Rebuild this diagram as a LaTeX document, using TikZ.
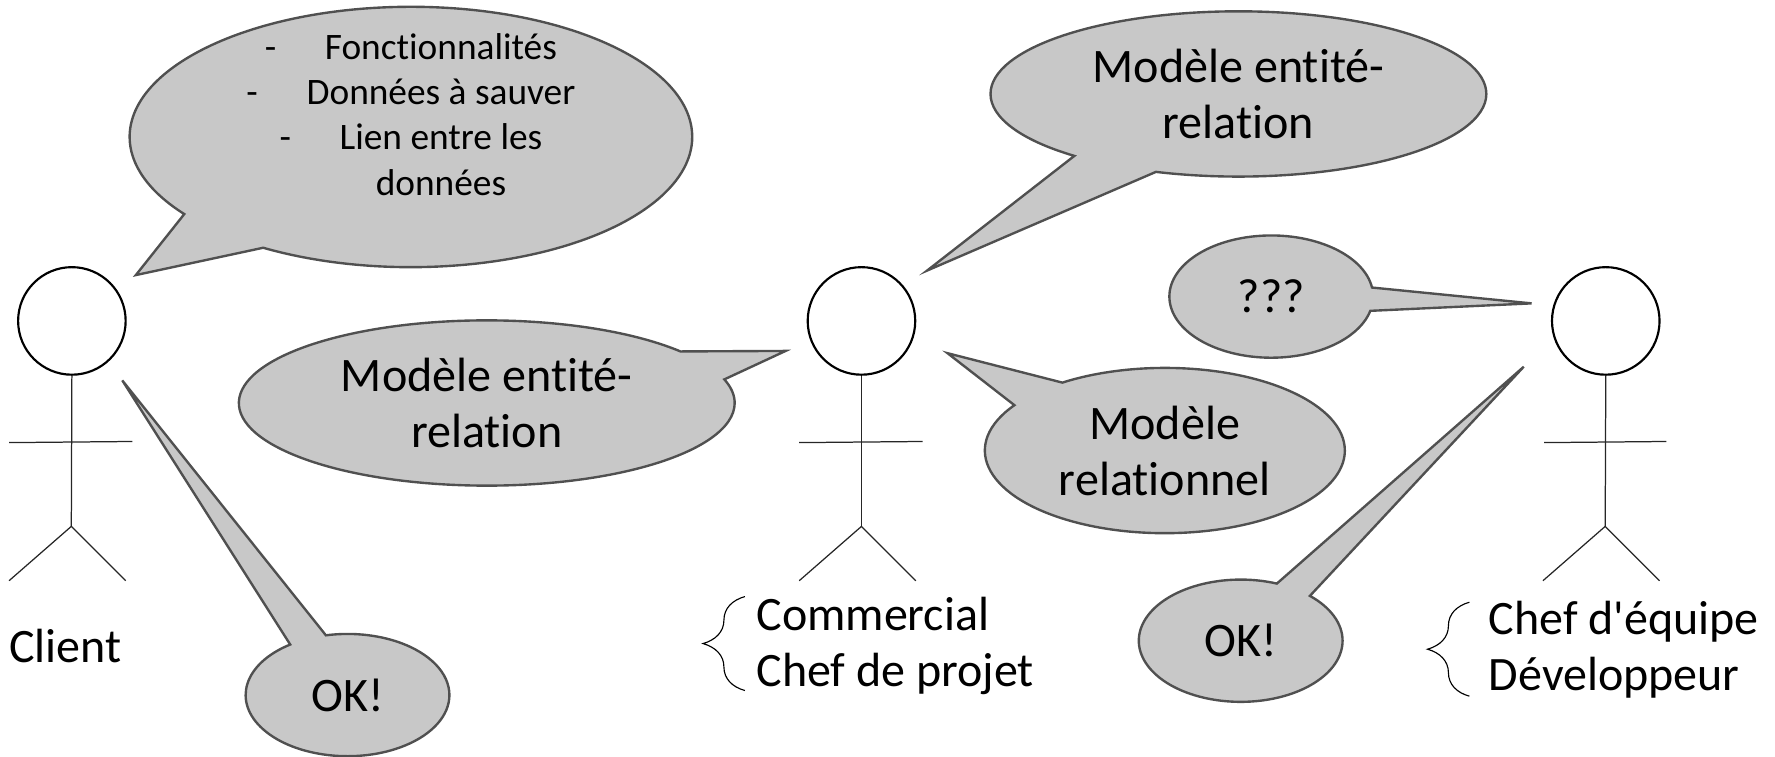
\documentclass[tikz,border=0pt]{standalone}
\usepackage{fontspec}
\setmainfont[Ligatures={NoCommon,TeXOff}]{Carlito}
\usetikzlibrary{shapes.callouts,decorations.pathreplacing}

\definecolor{bubblegray}{RGB}{200,200,200}
\definecolor{bubbleline}{RGB}{80,80,80}

\tikzset{
    head/.style={circle, draw, line width=1.9pt, fill=white, inner sep=0pt, minimum size=95pt},
    limb/.style={line width=1.1pt, draw=black!85},
    bubble/.style={ellipse callout, draw=bubbleline, fill=bubblegray, line width=2.1pt,
        inner sep=0pt, align=center, callout pointer arc=22},
    bigtext/.style={font=\fontsize{42.5}{49.5}\selectfont},
    listtext/.style={font=\fontsize{33}{40}\selectfont},
    role/.style={anchor=west, align=left, inner sep=0pt, font=\fontsize{42.4}{49.5}\selectfont},
    curly/.style={decorate, line width=1pt, decoration={brace, amplitude=37pt}}
}

\begin{document}
\begin{tikzpicture}[x=1pt,y=-1pt]
\useasboundingbox (0,0) rectangle (1568,668);

%Heads
\node[head] (H1) at (63.5,283.5)   {};
\node[head] (H2) at (761,283.5)  {};
\node[head] (H3) at (1418.5,283.5) {};

%Joints
\coordinate (H1arm) at (8,391);    \coordinate (H1hand) at (117,390);
\coordinate (H1hip) at (63,465);   \coordinate (H1footL) at (8,513);    \coordinate (H1footR) at (111,513);
\coordinate (H2arm) at (706,391);  \coordinate (H2hand) at (815,390);
\coordinate (H2hip) at (761,465);  \coordinate (H2footL) at (706,513);  \coordinate (H2footR) at (809,513);
\coordinate (H3arm) at (1364,391); \coordinate (H3hand) at (1472,390);
\coordinate (H3hip) at (1418,465); \coordinate (H3footL) at (1363,513); \coordinate (H3footR) at (1466,513);

%Lines
\foreach \who in {H1,H2,H3}{
    \draw[limb] (\who.south) -- (\who hip);
    \draw[limb] (\who arm) -- (\who hand);
    \draw[limb] (\who footL) -- (\who hip) -- (\who footR);
}

%Pointer ends
\coordinate (P1) at (120,243);
\coordinate (P2) at (108,336);
\coordinate (P3) at (694,310);
\coordinate (P4) at (819,239);
\coordinate (P5) at (837,312);
\coordinate (P6) at (1353,268);
\coordinate (P7) at (1346,324);

%Bubbles
\node[bubble, listtext, inner ysep=-30pt, minimum width=497pt, minimum height=230pt, callout absolute pointer={(P1)}]
    (B1) at (363,121) {-\hspace{43pt}Fonctionnalités\\
        -\hspace{43pt}Données à sauver\\
        -\hspace{43pt}Lien entre les\\
        \phantom{-}\hspace{43pt}données\\
        \mbox{}};
\node[bubble, bigtext, minimum width=180pt, minimum height=108pt, callout absolute pointer={(P2)}]
    (B2) at (307,614) {OK!};
\node[bubble, bigtext, minimum width=438pt, minimum height=146pt, callout absolute pointer={(P3)}]
    (B3) at (430,356) {Modèle entité-\\relation};
\node[bubble, bigtext, minimum width=438pt, minimum height=146pt, callout absolute pointer={(P4)}]
    (B4) at (1094,83) {Modèle entité-\\relation};
\node[bubble, bigtext, minimum width=318pt, minimum height=146pt, callout absolute pointer={(P5)}]
    (B5) at (1029,398) {Modèle\\relationnel};
\node[bubble, bigtext, minimum width=180pt, minimum height=108pt, callout absolute pointer={(P6)}]
    (B6) at (1123,262) {???};
\node[bubble, bigtext, minimum width=180pt, minimum height=108pt, callout absolute pointer={(P7)}]
    (B7) at (1096,566) {OK!};

%Roles
\node[role] (R1) at (8,571)    {Client};
\node[role] (R2) at (668,571)  {Commercial\\Chef de projet};
\node[role] (R3) at (1315,574) {Chef d'équipe\\Développeur};

%Braces
\coordinate (R2top) at (658,527);  \coordinate (R2bot) at (658,610);
\coordinate (R3top) at (1298,532); \coordinate (R3bot) at (1298,615);
\draw[curly] (R2bot) -- (R2top);
\draw[curly] (R3bot) -- (R3top);
\end{tikzpicture}
\end{document}
